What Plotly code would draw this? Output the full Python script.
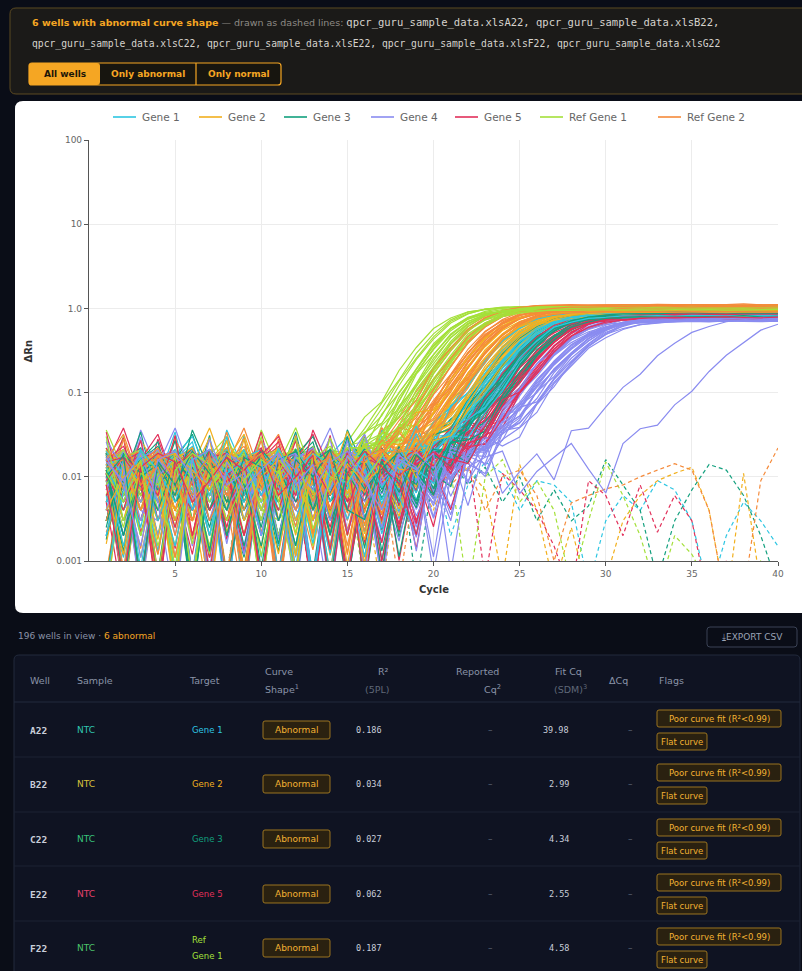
import math
import plotly.graph_objects as go

# ---------------------------------------------------------------- data
CYCLES = list(range(1, 41))

TARGETS = ["Gene 1", "Gene 2", "Gene 3", "Gene 4", "Gene 5", "Ref Gene 1", "Ref Gene 2"]
TARGET_COLORS = ["#2ec6e2", "#f2b01e", "#12a07e", "#8a8cf0", "#e2305a", "#a4e03a", "#f58a3a"]
TARGET_SLOPES = [1.2, 1.2, 1.2, 1.35, 1.25, 1.1, 1.15]

# midpoint cycle (half-plateau) of each amplifying well
MID_GENE1 = [24.2, 25.3, 24.7, 26.1, 24.9, 25.6, 24.4, 26.3, 25.4, 25.9, 24.8, 26.0, 25.5, 25.1,
             25.8, 24.6, 26.2, 25.2, 26.4, 24.5, 25.7, 24.3, 25.0, 26.5, 25.3, 25.6, 26.0]
MID_GENE2 = [23.0, 24.2, 23.6, 25.3, 23.9, 24.7, 23.3, 25.5, 24.4, 25.0, 23.7, 25.2, 24.6, 24.1,
             24.9, 23.5, 25.1, 24.3, 25.4, 23.8, 24.8, 23.2, 24.5, 25.6, 24.0, 24.7, 25.1]
MID_GENE3 = [24.9, 26.0, 25.4, 26.8, 25.6, 26.3, 25.1, 27.0, 26.1, 26.6, 25.5, 26.7, 26.2, 25.8,
             26.5, 25.3, 26.9, 25.9, 27.1, 25.2, 26.4, 25.0, 25.7, 27.2, 26.0, 26.3, 26.7]
MID_GENE4 = [27.3, 28.3, 27.8, 29.0, 27.9, 28.6, 27.5, 29.3, 28.4, 28.8, 27.7, 29.1, 28.5,
             28.1, 28.9, 27.6, 29.4, 28.2, 29.5, 27.4, 28.7, 27.8, 28.0, 29.2, 28.6, 28.9]
MID_GENE5 = [25.8, 26.8, 26.2, 27.5, 26.4, 27.1, 26.0, 27.7, 26.9, 27.3, 26.3, 27.4, 27.0, 26.6,
             27.2, 26.1, 27.6, 26.7, 27.8, 26.0, 27.1, 25.9, 26.5, 27.9, 26.8, 27.2, 27.5]
MID_REF1 = [19.8, 21.0, 20.3, 22.1, 20.7, 21.5, 20.1, 22.5, 21.2, 21.8, 20.5, 22.6, 21.4, 22.2,
            20.9, 20.6, 21.9, 21.6, 22.4, 21.1, 21.7, 20.4, 22.0, 21.3, 20.8, 21.6, 22.3]
MID_REF2 = [21.8, 23.0, 22.4, 24.1, 22.7, 23.5, 22.1, 24.3, 23.2, 23.8, 22.5, 24.0, 23.4, 22.9,
            23.7, 22.3, 23.9, 23.1, 24.2, 22.6, 23.6, 22.0, 23.3, 24.4, 22.8, 23.5, 23.9]

# plateau ΔRn of each amplifying well
PLAT_GENE1 = [0.88, 0.82, 0.93, 0.79, 0.90, 0.85, 0.95, 0.81, 0.87, 0.92, 0.78, 0.86, 0.94, 0.83,
              0.89, 0.80, 0.91, 0.84, 0.96, 0.82, 0.87, 0.90, 0.79, 0.93, 0.85, 0.88, 0.81]
PLAT_GENE2 = [0.92, 0.85, 0.97, 0.80, 0.90, 0.87, 0.95, 0.82, 0.93, 0.84, 0.98, 0.86, 0.91, 0.79,
              0.94, 0.88, 0.83, 0.96, 0.81, 0.90, 0.87, 0.93, 0.80, 0.95, 0.85, 0.89, 0.92]
PLAT_GENE3 = [0.86, 0.80, 0.91, 0.77, 0.88, 0.83, 0.93, 0.79, 0.85, 0.90, 0.76, 0.84, 0.92, 0.81,
              0.87, 0.78, 0.89, 0.82, 0.94, 0.80, 0.85, 0.88, 0.77, 0.91, 0.83, 0.86, 0.79]
PLAT_GENE4 = [0.78, 0.72, 0.82, 0.70, 0.80, 0.75, 0.84, 0.71, 0.77, 0.81, 0.69, 0.76, 0.83,
              0.73, 0.79, 0.70, 0.80, 0.74, 0.85, 0.72, 0.77, 0.80, 0.70, 0.82, 0.75, 0.78]
PLAT_GENE5 = [0.84, 0.78, 0.89, 0.75, 0.86, 0.81, 0.90, 0.77, 0.83, 0.88, 0.74, 0.82, 0.90, 0.79,
              0.85, 0.76, 0.87, 0.80, 0.91, 0.78, 0.83, 0.86, 0.75, 0.89, 0.81, 0.84, 0.77]
PLAT_REF1 = [1.02, 0.97, 1.05, 0.95, 1.00, 0.93, 1.04, 0.98, 0.96, 1.01, 0.94, 1.03, 0.99, 0.97,
             1.05, 0.95, 1.00, 0.92, 1.02, 0.98, 0.96, 1.04, 0.94, 1.00, 0.97, 1.03, 0.95]
PLAT_REF2 = [1.08, 0.95, 1.02, 0.90, 1.05, 0.97, 1.10, 0.93, 1.00, 0.88, 1.04, 0.96, 1.07, 0.91,
             0.99, 1.03, 0.94, 1.06, 0.89, 1.01, 0.97, 1.09, 0.92, 1.00, 0.95, 1.04, 0.90]

# two late-amplifying Gene 4 wells: midpoint, plateau, slope
LATE_GENE4_MID = [34.2, 38.5]
LATE_GENE4_PLAT = [0.80, 0.90]
LATE_GENE4_SLOPE = [1.6, 1.7]

# baseline background fluorescence (x 0.001 ΔRn), one row per noise pattern
NOISE_ROWS = [
    [14, 9, 3, 19, 6, 11, 0.5, 17, 8, 4, 21, 12, 2, 15, 7, 18, 0.4, 10, 13, 5,
     20, 9, 1.5, 16, 6, 30, 3, 11, 8, 17, 0.6, 14, 7, 19, 4, 12, 2, 16, 9, 6],
    [5, 17, 11, 2, 21, 8, 14, 4, 18, 0.5, 12, 7, 20, 3, 16, 10, 5, 28, 8, 1.2,
     15, 19, 6, 11, 0.4, 13, 16, 4, 19, 9, 3, 16, 10, 0.7, 18, 8, 14, 5, 20, 12],
    [19, 7, 15, 10, 3, 17, 20, 6, 1.1, 13, 9, 34, 5, 12, 0.3, 17, 8, 14, 2.5, 19,
     11, 4, 16, 9, 18, 0.6, 7, 21, 12, 5, 17, 2, 11, 15, 6, 22, 9, 0.5, 13, 8],
    [8, 12, 22, 4, 14, 1.5, 9, 19, 12, 16, 3, 8, 17, 21, 10, 0.6, 14, 6, 18, 11,
     0.4, 16, 9, 20, 13, 4, 10, 15, 1.8, 19, 12, 7, 27, 3, 10, 16, 0.7, 19, 6, 14],
    [3, 15, 6, 17, 9, 19, 12, 0.4, 16, 22, 7, 14, 10, 1.4, 19, 13, 20, 3, 9, 17,
     12, 6, 31, 2, 14, 10, 18, 0.5, 15, 8, 20, 11, 4, 17, 13, 1.6, 16, 10, 21, 4],
    [11, 2.5, 18, 13, 0.6, 10, 16, 26, 5, 9, 14, 0.4, 19, 8, 13, 20, 4, 17, 11, 21,
     6, 13, 0.8, 18, 7, 15, 9, 19, 5, 0.3, 16, 21, 8, 11, 2, 18, 12, 7, 15, 20],
    [20, 13, 8, 1.2, 17, 12, 5, 14, 38, 10, 6, 18, 13, 4, 9, 0.5, 19, 12, 16, 7,
     14, 22, 10, 3, 17, 8, 0.6, 13, 19, 15, 5, 9, 17, 12, 21, 6, 10, 18, 0.4, 11],
    [6, 10, 14, 19, 11, 4, 21, 9, 13, 2, 17, 19, 0.5, 11, 16, 8, 13, 1.3, 20, 10,
     17, 3, 12, 15, 21, 11, 5, 16, 0.7, 12, 19, 14, 3, 9, 16, 11, 29, 2.2, 8, 16],
    [16, 19, 4, 9, 14, 18, 1.1, 11, 7, 19, 15, 4, 10, 17, 21, 6, 11, 18, 0.4, 14,
     8, 16, 19, 5, 11, 16, 32, 8, 13, 3, 9, 18, 0.6, 14, 19, 9, 4, 13, 17, 0.8],
    [9, 4, 16, 12, 19, 0.7, 13, 17, 20, 6, 11, 16, 23, 9, 0.4, 14, 18, 7, 12, 2,
     10, 14, 6, 36, 12, 17, 8, 1.5, 16, 20, 10, 0.5, 15, 7, 12, 19, 8, 14, 3, 18],
    [13, 16, 9, 21, 2, 14, 8, 12, 0.6, 17, 10, 13, 6, 19, 12, 3, 16, 10, 27, 13,
     1.1, 10, 17, 12, 8, 19, 14, 6, 11, 16, 0.5, 19, 13, 5, 9, 14, 19, 11, 1.3, 15],
    [2, 9, 19, 7, 12, 16, 10, 3, 15, 11, 0.5, 20, 16, 7, 14, 11, 2, 9, 15, 17,
     9, 0.6, 14, 19, 4, 9, 12, 18, 30, 10, 14, 6, 19, 0.4, 16, 10, 13, 17, 7, 12],
]

# NTC wells flagged as abnormal (x 0.001 ΔRn per cycle)
NTC_WELLS = ["A22", "B22", "C22", "E22", "F22", "G22"]
NTC_TARGETS = ["Gene 1", "Gene 2", "Gene 3", "Gene 5", "Ref Gene 1", "Ref Gene 2"]
NTC_A22 = [12, 6, 18, 3, 9, 14, 0.5, 11, 20, 7, 13, 4, 16, 9, 0.6, 12, 17, 5, 10, 14,
           2, 8, 15, 11, 4, 9, 8, 5, 0.5, 3, 6, 4, 9, 7, 3, 0.4, 2, 5, 3, 1.5]
NTC_B22 = [7, 15, 10, 22, 5, 12, 17, 3, 9, 14, 0.5, 11, 19, 6, 13, 8, 0.4, 15, 10, 4,
           18, 12, 7, 0.6, 14, 4, 0.5, 2.5, 0.4, 0.6, 3, 6, 9, 11, 13, 4, 0.3, 11, 0.5, 0.4]
NTC_C22 = [16, 9, 4, 13, 20, 8, 11, 0.7, 15, 10, 6, 18, 12, 3, 9, 14, 7, 21, 0.5, 11,
           16, 8, 13, 5, 10, 3, 7, 3, 4.5, 16, 8, 4, 0.6, 3, 7, 14, 12, 6, 2, 0.5]
NTC_E22 = [10, 19, 6, 12, 0.5, 15, 9, 23, 11, 4, 14, 8, 0.4, 17, 12, 6, 10, 15, 3, 13,
           9, 19, 0.6, 11, 7, 4, 1.5, 0.4, 9, 6, 2, 8, 2.2, 6, 3, 0.3, 1, 0.5, 0.8, 0.4]
NTC_F22 = [18, 8, 13, 5, 10, 21, 6, 14, 0.6, 12, 17, 9, 4, 15, 11, 0.5, 13, 8, 19, 6,
           12, 0.4, 10, 16, 5, 9, 4, 0.5, 3, 15, 6, 2, 0.4, 2, 1.2, 0.5, 0.8, 0.4, 1, 0.6]
NTC_G22 = [5, 14, 9, 17, 11, 0.6, 13, 7, 19, 10, 3, 15, 12, 6, 18, 9, 14, 0.5, 11, 16,
           8, 13, 4, 10, 12, 6, 1, 4.9, 6, 7.2, 8, 10, 12, 14.3, 12, 4, 0.3, 0.4, 9, 22]

# table rows
TABLE_WELLS = ["A22", "B22", "C22", "E22", "F22"]
TABLE_SAMPLES = ["NTC", "NTC", "NTC", "NTC", "NTC"]
TABLE_SAMPLE_COLORS = ["#2fc7b0", "#d7c23c", "#37c47a", "#e3416b", "#4cc46a"]
TABLE_TARGETS = ["Gene 1", "Gene 2", "Gene 3", "Gene 5", "Ref Gene 1"]
TABLE_R2 = ["0.186", "0.034", "0.027", "0.062", "0.187"]
TABLE_FIT_CQ = ["39.98", "2.99", "4.34", "2.55", "4.58"]

# ---------------------------------------------------------------- geometry helpers
W, H = 802, 971
PL, PR, PT, PB = 89, 778, 140, 561      # plot area in page pixels


def fx(px):
    return (px - PL) / (PR - PL)


def fy(py):
    return (PB - py) / (PB - PT)


def rrect_path(x0, y0, x1, y1, r):
    pts = [
        ("M", (x0 + r, y0)), ("L", (x1 - r, y0)), ("Q", (x1, y0), (x1, y0 + r)),
        ("L", (x1, y1 - r)), ("Q", (x1, y1), (x1 - r, y1)), ("L", (x0 + r, y1)),
        ("Q", (x0, y1), (x0, y1 - r)), ("L", (x0, y0 + r)), ("Q", (x0, y0), (x0 + r, y0)),
    ]
    out = []
    for p in pts:
        coords = " ".join(f"{fx(a):.5f},{fy(b):.5f}" for a, b in p[1:])
        out.append(f"{p[0]}{coords}")
    return " ".join(out) + " Z"


shapes = []
annotations = []


def box(x0, y0, x1, y1, fill, line=None, width=1, r=4, layer="above"):
    shapes.append(dict(type="path", path=rrect_path(x0, y0, x1, y1, r), xref="paper", yref="paper",
                       fillcolor=fill, line=dict(color=line or fill, width=width if line else 0),
                       layer=layer))


def seg(x0, y0, x1, y1, color, width=1, dash="solid"):
    shapes.append(dict(type="line", xref="paper", yref="paper", x0=fx(x0), x1=fx(x1),
                       y0=fy(y0), y1=fy(y1), line=dict(color=color, width=width, dash=dash),
                       layer="above"))


def text(px, py, s, color, size=9, family="DejaVu Sans", anchor="left", angle=0):
    annotations.append(dict(x=fx(px), y=fy(py), xref="paper", yref="paper", text=s,
                            showarrow=False, xanchor=anchor, yanchor="middle", textangle=angle,
                            font=dict(color=color, size=size, family=family)))


# ---------------------------------------------------------------- curves
def logistic(c, mid, plateau, slope):
    return plateau / (1.0 + math.exp(-(c - mid) / slope))


fig = go.Figure()

# abnormal NTC wells first, dashed, so amplifying wells sit on top of them
ntc_series = [NTC_A22, NTC_B22, NTC_C22, NTC_E22, NTC_F22, NTC_G22]
for well, tgt, vals in zip(NTC_WELLS, NTC_TARGETS, ntc_series):
    t = TARGETS.index(tgt)
    fig.add_trace(go.Scatter(
        x=CYCLES, y=[v * 0.001 for v in vals], mode="lines", name=f"{well} {tgt}",
        showlegend=False, line=dict(color=TARGET_COLORS[t], width=1.2, dash="4px,3px"),
        hoverinfo="skip"))

mids = [MID_GENE1, MID_GENE2, MID_GENE3, MID_GENE4, MID_GENE5, MID_REF1, MID_REF2]
plats = [PLAT_GENE1, PLAT_GENE2, PLAT_GENE3, PLAT_GENE4, PLAT_GENE5, PLAT_REF1, PLAT_REF2]

wells_by_target = []
for t in range(len(TARGETS)):
    wl = [(m, p, TARGET_SLOPES[t]) for m, p in zip(mids[t], plats[t])]
    if TARGETS[t] == "Gene 4":
        wl += list(zip(LATE_GENE4_MID, LATE_GENE4_PLAT, LATE_GENE4_SLOPE))
    wells_by_target.append(wl)

k = 0
nmax = max(len(w) for w in wells_by_target)
for j in range(nmax):
    for t, name in enumerate(TARGETS):
        if j >= len(wells_by_target[t]):
            continue
        mid, plat, slope = wells_by_target[t][j]
        row = NOISE_ROWS[k % len(NOISE_ROWS)]
        off = (k // len(NOISE_ROWS)) * 7 % 40
        y = [logistic(c, mid, plat, slope) + row[(i + off) % 40] * 0.001
             for i, c in enumerate(CYCLES)]
        fig.add_trace(go.Scatter(
            x=CYCLES, y=y, mode="lines", name=name, showlegend=False,
            line=dict(color=TARGET_COLORS[t], width=1.2), hoverinfo="skip"))
        k += 1

# ---------------------------------------------------------------- page furniture
PAGE_BG = "#0a0d17"
ORANGE = "#f5a623"

# chart card
box(15, 101, 812, 613, "#ffffff", r=8, layer="below")

# legend row above the plot
LEGEND_X = [113, 199, 284, 371, 455, 540, 658]
for t, name in enumerate(TARGETS):
    seg(LEGEND_X[t], 117, LEGEND_X[t] + 23, 117, TARGET_COLORS[t], width=1.6)
    text(LEGEND_X[t] + 27, 117, name, "#666666", size=10.5)

# abnormal banner
box(10, 8, 812, 94, "#1b1a18", line="#5c4a22", width=1, r=6, layer="below")
MONO = "DejaVu Sans Mono"
FILE_STYLE = "font-family:\"DejaVu Sans Mono\";font-size:10.5px;color:#d6d3cd"
text(30, 23,
     "<b><span style='color:#f5a623'>6 wells with abnormal curve shape</span></b>"
     "<span style='color:#8d8a85'> — drawn as dashed lines: </span>"
     f"<span style='{FILE_STYLE}'>qpcr_guru_sample_data.xlsA22, qpcr_guru_sample_data.xlsB22,</span>",
     "#d6d3cd", size=9.5)
text(30, 44,
     "qpcr_guru_sample_data.xlsC22, qpcr_guru_sample_data.xlsE22, "
     "qpcr_guru_sample_data.xlsF22, qpcr_guru_sample_data.xlsG22",
     "#d6d3cd", size=9.7, family=MONO)

# filter buttons
box(29, 63, 281, 85, "#17150f", line=ORANGE, width=1.2, r=3)
box(29, 63, 100, 85, ORANGE, r=3)
seg(196, 63, 196, 85, ORANGE, width=1.2)
text(64.5, 74, "<b>All wells</b>", "#1d1608", size=9, anchor="center")
text(148, 74, "<b>Only abnormal</b>", ORANGE, size=9, anchor="center")
text(238.5, 74, "<b>Only normal</b>", ORANGE, size=9, anchor="center")

# axis titles
text((PL + PR) / 2, 589, "<b>Cycle</b>", "#333333", size=10, anchor="center")
text(28, (PT + PB) / 2, "<b>ΔRn</b>", "#333333", size=10, anchor="center", angle=-90)

# summary line and export button
text(16, 636, "196 wells in view · <span style='color:#f5a623'>6 abnormal</span>", "#8b93a7", size=9)
box(707, 627, 797, 647, PAGE_BG, line="#3b4356", width=1, r=3)
text(752, 637, "⤓EXPORT CSV", "#9aa3b5", size=9, anchor="center")

# table container
TABLE_BG = "#0f1322"
GRID = "#222a3c"
box(14, 655, 800, 990, TABLE_BG, line=GRID, width=1, r=5, layer="below")
seg(14, 702, 800, 702, GRID)
ROW_Y = [730, 784, 839, 894, 948]
for yb in [757, 812, 866, 921]:
    seg(14, yb, 800, yb, "#1c2333")

HDR = "#8a93a8"
text(28, 680, "Well", HDR, size=9.5)
text(75, 680, "Sample", HDR, size=9.5)
text(187, 680, "Target", HDR, size=9.5)
text(263, 671, "Curve", HDR, size=9.5)
text(263, 689, "Shape<sup>1</sup>", HDR, size=9.5)
text(391, 671, "R²", HDR, size=9.5, anchor="right")
text(391, 689, "(5PL)", "#5f6878", size=9.5, anchor="right")
text(501, 671, "Reported", HDR, size=9.5, anchor="right")
text(503, 689, "Cq<sup>2</sup>", HDR, size=9.5, anchor="right")
text(584, 671, "Fit Cq", HDR, size=9.5, anchor="right")
text(589, 689, "(SDM)<sup>3</sup>", "#5f6878", size=9.5, anchor="right")
text(607, 680, "ΔCq", HDR, size=9.5)
text(657, 680, "Flags", HDR, size=9.5)

BADGE_FILL = "#2a2110"
BADGE_LINE = "#9a7420"
BADGE_TEXT = "#f2b233"
for i, yc in enumerate(ROW_Y):
    text(28, yc, f"<b>{TABLE_WELLS[i]}</b>", "#c9ceda", size=9.5, family=MONO)
    text(75, yc, TABLE_SAMPLES[i], TABLE_SAMPLE_COLORS[i], size=9)
    tcolor = TARGET_COLORS[TARGETS.index(TABLE_TARGETS[i])]
    if TABLE_TARGETS[i].startswith("Ref"):
        text(190, yc - 8, "Ref", tcolor, size=8.5)
        text(190, yc + 8, "Gene 1", tcolor, size=8.5)
    else:
        text(190, yc, TABLE_TARGETS[i], tcolor, size=8.5)
    box(263, yc - 9, 330, yc + 9, BADGE_FILL, line=BADGE_LINE, width=1, r=2)
    text(296.5, yc, "Abnormal", BADGE_TEXT, size=9, anchor="center")
    text(354, yc, TABLE_R2[i], "#c9ceda", size=8.5, family=MONO)
    text(490, yc, "–", "#5f6878", size=9, anchor="center")
    text(571, yc, TABLE_FIT_CQ[i], "#c9ceda", size=8.5, family=MONO, anchor="right")
    text(630, yc, "–", "#5f6878", size=9, anchor="center")
    box(657, yc - 20, 781, yc - 3, BADGE_FILL, line=BADGE_LINE, width=1, r=2)
    text(719, yc - 11.5, "Poor curve fit (R²<0.99)", BADGE_TEXT, size=8.5, anchor="center")
    box(657, yc + 3, 707, yc + 20, BADGE_FILL, line=BADGE_LINE, width=1, r=2)
    text(682, yc + 11.5, "Flat curve", BADGE_TEXT, size=8.5, anchor="center")

# ---------------------------------------------------------------- layout
fig.update_layout(
    width=W, height=H,
    margin=dict(l=PL, r=W - PR, t=PT, b=H - PB, pad=0),
    paper_bgcolor=PAGE_BG, plot_bgcolor="#ffffff",
    font=dict(family="DejaVu Sans", size=9, color="#666666"),
    showlegend=False,
    xaxis=dict(range=[0, 40], tickvals=[5, 10, 15, 20, 25, 30, 35, 40],
               showline=True, linecolor="#555555", linewidth=1.2, ticks="outside",
               ticklen=4, tickcolor="#555555", showgrid=True, gridcolor="#ececec",
               zeroline=False, tickfont=dict(size=9, color="#666666")),
    yaxis=dict(type="log", range=[-3, 2],
               tickvals=[0.001, 0.01, 0.1, 1, 10, 100],
               ticktext=["0.001", "0.01", "0.1", "1.0", "10", "100"],
               showline=True, linecolor="#555555", linewidth=1.2, ticks="outside",
               ticklen=4, tickcolor="#555555", showgrid=True, gridcolor="#ececec",
               zeroline=False, tickfont=dict(size=9, color="#666666")),
    shapes=shapes, annotations=annotations,
)

fig.write_html("out.html")
